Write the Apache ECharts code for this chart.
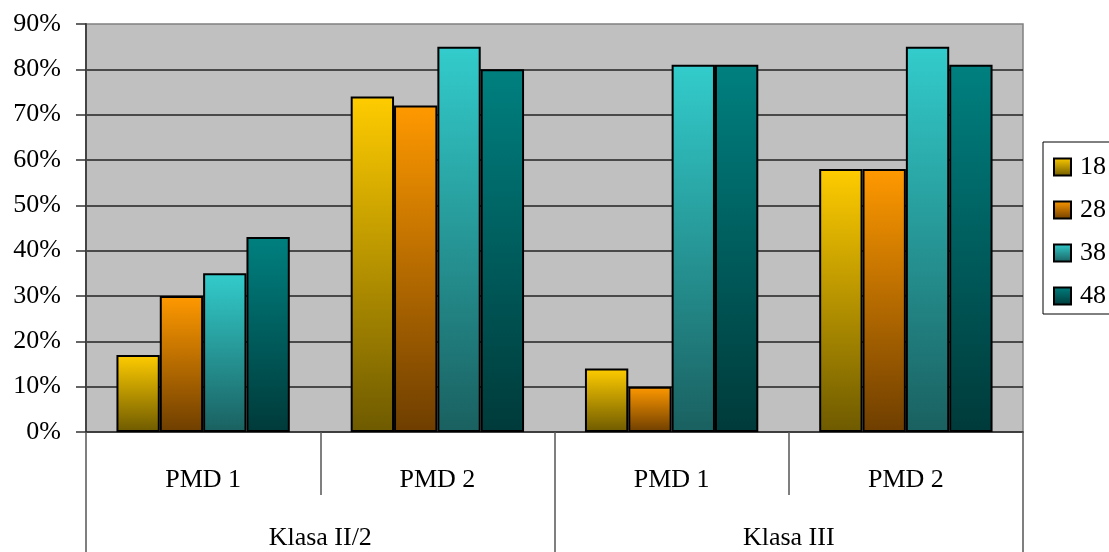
<!DOCTYPE html>
<html>
<head>
<meta charset="utf-8">
<script src="https://cdn.jsdelivr.net/npm/echarts@6/dist/echarts.min.js"></script>
<style>
html,body{margin:0;padding:0;background:#fff;}
#c{width:1109px;height:552px;}
</style>
</head>
<body>
<div id="c"></div>
<script>
const subCategories = ['PMD 1', 'PMD 2', 'PMD 1', 'PMD 2'];
const groupCategories = ['Klasa II/2', 'Klasa III'];
const seriesNames = ['18', '28', '38', '48'];
const s18 = [17, 74, 14, 58];
const s28 = [30, 72, 10, 58];
const s38 = [35, 85, 81, 85];
const s48 = [43, 80, 81, 81];
const seriesValues = [s18, s28, s38, s48];
const gradients = [
  ['#FFCC00', '#6E5A00'],
  ['#FF9900', '#6E3E00'],
  ['#33CCCC', '#1A6060'],
  ['#008080', '#003A3A']
];
const font = '"Liberation Serif", "Times New Roman", serif';

const chart = echarts.init(document.getElementById('c'), null, {renderer: 'canvas'});
chart.setOption({
  animation: false,
  backgroundColor: '#ffffff',
  textStyle: {fontFamily: font},
  grid: {
    left: 86, right: 86, top: 24, bottom: 120,
    show: true, backgroundColor: '#C0C0C0', borderColor: '#808080', borderWidth: 1.5
  },
  legend: {
    orient: 'vertical',
    left: 1043, top: 142,
    padding: [12, 40, 5, 10],
    itemGap: 17,
    itemWidth: 17, itemHeight: 17,
    borderColor: '#000', borderWidth: 1,
    icon: 'rect',
    textStyle: {fontFamily: font, fontSize: 26, color: '#000', padding: [0, 0, 0, 4]},
    data: seriesNames
  },
  xAxis: [
    {
      type: 'category',
      data: subCategories,
      position: 'bottom',
      axisLine: {show: true, lineStyle: {color: '#222', width: 1.5}},
      axisTick: {show: true, length: 63, lineStyle: {color: '#555', width: 1.5}},
      axisLabel: {margin: 35, fontSize: 26, color: '#000', fontFamily: font},
      splitLine: {show: false}
    },
    {
      type: 'category',
      data: groupCategories,
      position: 'bottom',
      axisLine: {show: false},
      axisTick: {show: true, length: 120, lineStyle: {color: '#555', width: 1.5}},
      axisLabel: {margin: 93, fontSize: 26, color: '#000', fontFamily: font},
      splitLine: {show: false}
    }
  ],
  yAxis: {
    type: 'value',
    min: 0, max: 90, interval: 10,
    axisLine: {show: true, lineStyle: {color: '#444', width: 2}},
    axisTick: {show: true, length: 10, lineStyle: {color: '#333', width: 1.5}},
    axisLabel: {formatter: '{value}%', fontSize: 26, color: '#000', margin: 25, fontFamily: font},
    splitLine: {show: true, showMinLine: false, showMaxLine: false, lineStyle: {color: '#222', width: 1.5}}
  },
  series: seriesNames.map((name, i) => ({
    name: name,
    type: 'bar',
    xAxisIndex: 0,
    data: seriesValues[i],
    barGap: '0%',
    barCategoryGap: '26%',
    itemStyle: {
      color: new echarts.graphic.LinearGradient(0, 0, 0, 1, [
        {offset: 0, color: gradients[i][0]},
        {offset: 1, color: gradients[i][1]}
      ]),
      borderColor: '#000',
      borderWidth: 2
    }
  }))
});
</script>
</body>
</html>
